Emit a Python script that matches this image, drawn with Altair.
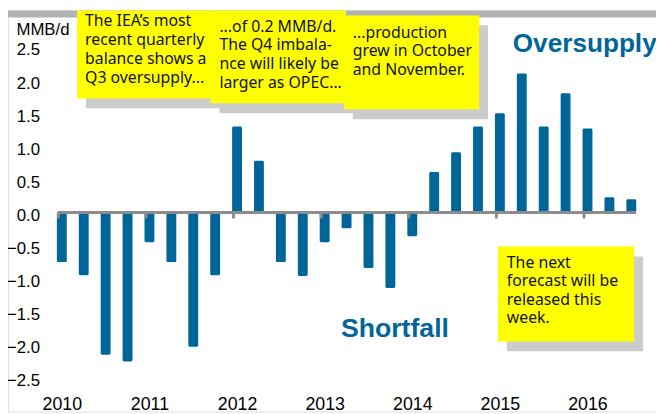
import altair as alt
import pandas as pd

# ---- data ----
years = [2010, 2011, 2012, 2013, 2014, 2015, 2016]
quarters = ["Q1", "Q2", "Q3", "Q4"]
balance = [-0.75, -0.95, -2.15, -2.25, -0.45, -0.75, -2.03, -0.95,
           1.30, 0.78, -0.75, -0.96, -0.45, -0.24, -0.84, -1.14,
           -0.36, 0.61, 0.91, 1.30, 1.50, 2.10, 1.30, 1.80,
           1.27, 0.23, 0.20]
y_ticks = [-2.5, -2.0, -1.5, -1.0, -0.5, 0.0, 0.5, 1.0, 1.5, 2.0, 2.5]

periods = [(y, qi) for y in years for qi in range(len(quarters))][:len(balance)]
df = pd.DataFrame({
    "period": [f"{y} {quarters[qi]}" for y, qi in periods],
    "t": [y + qi / 4 for y, qi in periods],
    "balance": balance,
})
tick_df = pd.DataFrame({"year": years})
one = pd.DataFrame({"k": [0]})

BLUE = "#006699"
GRAY = "#8c8c8c"
YELLOW = "#ffff00"
SHADOW = "#cccccc"
AX_FONT = "Liberation Sans"
NOTE_FONT = "Comic Sans MS, Noto Sans"

W, H = 656, 406
xs = alt.Scale(domain=[2010, 2016.5], range=[49.5, 636], nice=False, zero=False)
ys = alt.Scale(domain=[-2.5, 2.5], range=[372, 37], nice=False, zero=False)

bars = alt.Chart(df).mark_bar(width=10, color=BLUE, cornerRadius=1.5).encode(
    x=alt.X("t:Q", scale=xs,
            axis=alt.Axis(values=years, format="d", title=None, orient="bottom",
                          offset=-16.5, domain=False, ticks=False, tickSize=0,
                          labelPadding=0, grid=False, labelFont=AX_FONT,
                          labelFontSize=18, labelColor="#000000", labelBaseline="top")),
    y=alt.Y("balance:Q", scale=ys,
            axis=alt.Axis(values=y_ticks, format=".1f", title="MMB/d", orient="left",
                          offset=-32, domain=False, ticks=False, tickSize=0,
                          labelPadding=0, grid=False, labelFont=AX_FONT,
                          labelFontSize=17, labelColor="#000000", labelOffset=3,
                          titleAngle=0, titleAlign="left", titleBaseline="middle",
                          titleX=-24, titleY=19, titleFont=AX_FONT, titleFontSize=17,
                          titleFontWeight="normal", titleColor="#000000")),
    y2=alt.datum(0),
    tooltip=["period", "balance"],
)

zero_line = alt.Chart(one).mark_rule(color=GRAY, strokeWidth=3).encode(
    x=alt.datum(2009.95), x2=alt.datum(2016.555), y=alt.datum(0))

year_ticks = alt.Chart(tick_df).transform_calculate(tx="datum.year - 0.04").mark_rule(
    color=GRAY, strokeWidth=3).encode(
    x=alt.X("tx:Q"), y=alt.datum(0), y2=alt.datum(-0.09))

top_band = alt.Chart(one).mark_rect(color="#b3b3b3").encode(
    x=alt.value(0), x2=alt.value(W), y=alt.value(0), y2=alt.value(7))


def note(x0, y0, x1, y1, lines, tx, ty, lh):
    shadow = alt.Chart(one).mark_rect(color=SHADOW).encode(
        x=alt.value(x0 + 9), x2=alt.value(x1 + 9), y=alt.value(y0 + 10), y2=alt.value(y1 + 10))
    box = alt.Chart(one).mark_rect(color=YELLOW).encode(
        x=alt.value(x0), x2=alt.value(x1), y=alt.value(y0), y2=alt.value(y1))
    txt = alt.Chart(one).mark_text(text=lines, font=NOTE_FONT, fontSize=16, lineHeight=lh,
                                   align="left", baseline="alphabetic", color="#111111").encode(
        x=alt.value(tx), y=alt.value(ty))
    return [shadow, box, txt]


notes = []
notes += note(70, 0, 207, 89, ["The IEA\u2019s most", "recent quarterly", "balance shows a", "Q3 oversupply..."], 78, 16, 19)
notes += note(205, 0, 342, 94, ["...of 0.2 MMB/d.", "The Q4 imbala-", "nce will likely be", "larger as OPEC..."], 214, 21.3, 19)
notes += note(340, 5, 477, 100, ["...production", "grew in October", "and November."], 349, 27.7, 18.6)
notes += note(496, 239, 634, 335, ["The next", "forecast will be", "released this", "week."], 505, 260.3, 18.7)

over = alt.Chart(one).mark_text(text="Oversupply", font=AX_FONT, fontSize=26.5, fontWeight="bold",
                                color=BLUE, align="left", baseline="alphabetic").encode(
    x=alt.value(511), y=alt.value(42))
short = alt.Chart(one).mark_text(text="Shortfall", font=AX_FONT, fontSize=27, fontWeight="bold",
                                 color=BLUE, align="left", baseline="alphabetic").encode(
    x=alt.value(337), y=alt.value(331))

chart = alt.layer(top_band, *notes, bars, zero_line, year_ticks, over, short).properties(
    width=W, height=H, padding=0,
    autosize=alt.AutoSizeParams(type="none"),
).configure_view(stroke=None).configure(background="#ffffff")

chart.save("out.html", embed_options={"renderer": "svg", "actions": False})
